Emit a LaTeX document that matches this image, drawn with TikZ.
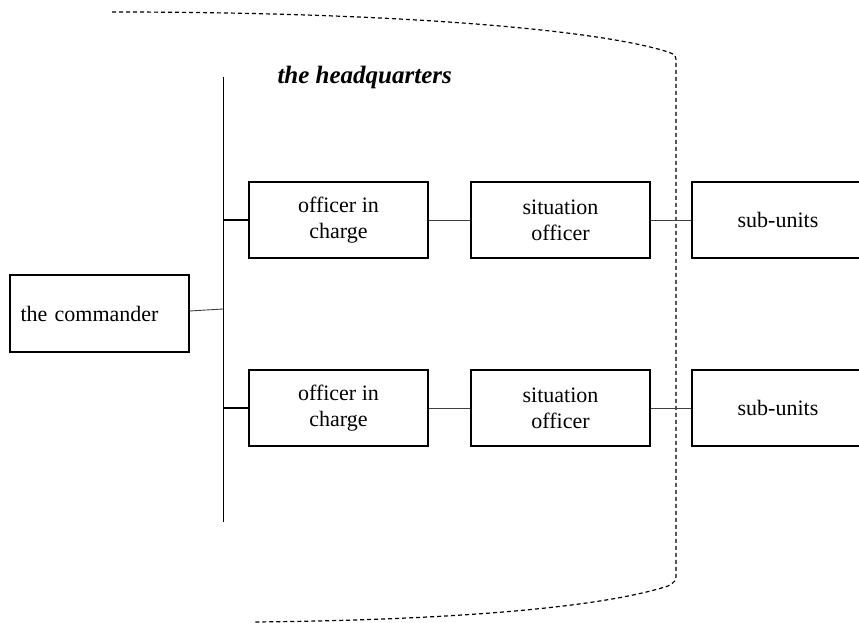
\documentclass[tikz,border=0pt]{standalone}
\usepackage{fontspec}
\setmainfont{Liberation Serif}
\begin{document}
\begin{tikzpicture}[x=1pt,y=-1pt,
  unit/.style={draw, line width=1.1pt, rectangle, inner sep=0pt, align=center,
    font=\fontsize{22}{26}\selectfont},
  link/.style={line width=0.9pt, draw=black!75},
  tap/.style={line width=1.6pt},
  hqline/.style={line width=1.2pt, dash pattern=on 4pt off 3pt}]
\useasboundingbox (0,0) rectangle (859,623);
\clip (0,0) rectangle (859,623);

% headquarters outline
\draw[hqline] (112,12) .. controls (400,12) and (600,30) .. (668,52)
  .. controls (676,55) .. (676,64) -- (676,573)
  .. controls (676,581) .. (668,586)
  .. controls (600,608) and (450,620) .. (255,622);
\node[font=\fontsize{25}{29}\selectfont\bfseries\itshape, anchor=west] (hq) at (274,77) {the headquarters};

% common bus
\coordinate (busTop) at (223,77);
\coordinate (busBot) at (223,522);
\draw[line width=1pt] (busTop) -- (busBot);

% boxes
\node[unit, minimum width=179pt, minimum height=77pt, text width=170pt, align=left] (cmd) at (99.5,313.5) {\hspace*{6pt}the commander};
\node[unit, minimum width=179pt, minimum height=76pt] (oc1) at (338.5,220) {officer in\\charge};
\node[unit, minimum width=179pt, minimum height=76pt] (so1) at (560.5,220) {situation\\officer};
\node[unit, minimum width=172pt, minimum height=76pt] (su1) at (778,220) {sub-units};
\node[unit, minimum width=179pt, minimum height=76pt] (oc2) at (338.5,408) {officer in\\charge};
\node[unit, minimum width=179pt, minimum height=76pt] (so2) at (560.5,408) {situation\\officer};
\node[unit, minimum width=172pt, minimum height=76pt] (su2) at (778,408) {sub-units};

% connections
\coordinate (j0) at (223,309);
\coordinate (j1) at (223,220);
\coordinate (j2) at (223,408);
\draw[link] (cmd.east |- 0,311) -- (j0);
\draw[tap] (j1) -- (oc1.west);
\draw[tap] (j2) -- (oc2.west);
\draw[link] (oc1) -- (so1);
\draw[link] (so1) -- (su1);
\draw[link] (oc2) -- (so2);
\draw[link] (so2) -- (su2);
\end{tikzpicture}
\end{document}
